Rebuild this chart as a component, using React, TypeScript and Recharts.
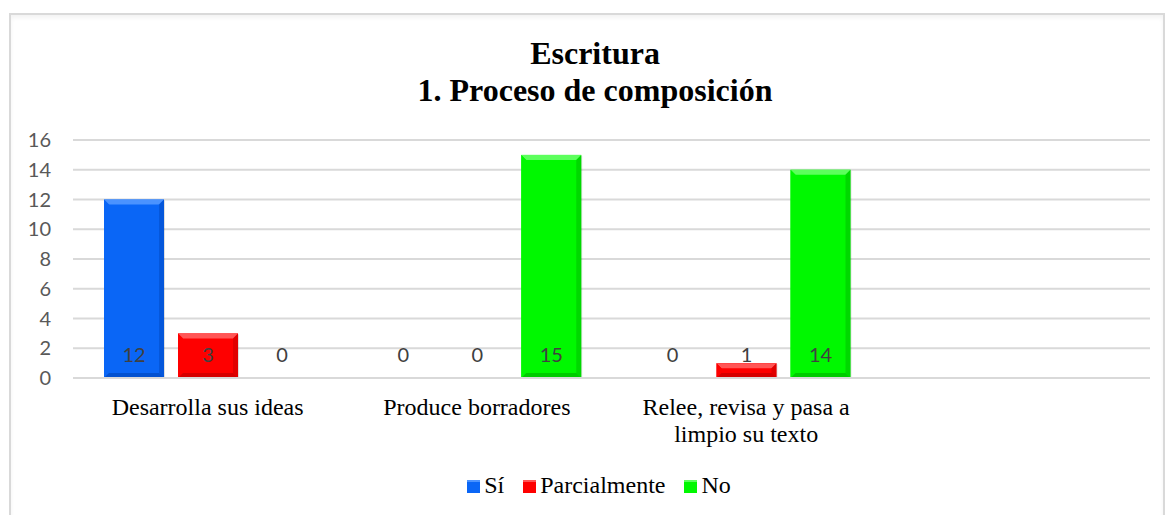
import { Bar, BarChart, CartesianGrid, LabelList, Legend, XAxis, YAxis } from 'recharts'

const categories = ['Desarrolla sus ideas', 'Produce borradores', 'Relee, revisa y pasa a limpio su texto', '']
const siValues = [12, 0, 0, null]
const parcialValues = [3, 0, 1, null]
const noValues = [0, 15, 14, null]
const yTicks = [0, 2, 4, 6, 8, 10, 12, 14, 16]

const series = [
  { key: 'si', name: 'Sí', fill: '#0a66f6', light: '#4b93ff', dark: '#0048c0' },
  { key: 'parcial', name: 'Parcialmente', fill: '#fe0000', light: '#ff5555', dark: '#c40000' },
  { key: 'no', name: 'No', fill: '#00f800', light: '#5cff5c', dark: '#00b800' },
]

const data = categories.map((name, i) => ({
  name,
  si: siValues[i],
  parcial: parcialValues[i],
  no: noValues[i],
}))

const SERIF = 'Liberation Serif, DejaVu Serif, serif'

// bar with a small bevel, like the office 3D preset
function bevelShape(s: (typeof series)[number]) {
  return (props: any) => {
    const { x, y, width, height } = props
    if (!height || height <= 0) return <g />
    const b = Math.min(5, height / 2, width / 2)
    return (
      <g>
        <rect x={x + 1} y={y + 1} width={width} height={height} fill="rgba(0,0,0,0.12)" />
        <rect x={x} y={y} width={width} height={height} fill={s.fill} />
        <polygon points={`${x},${y} ${x + width},${y} ${x + width - b},${y + b} ${x + b},${y + b}`} fill={s.light} />
        <polygon points={`${x},${y} ${x + b},${y + b} ${x + b},${y + height - b} ${x},${y + height}`} fill={s.fill} opacity={0.85} />
        <polygon points={`${x + width},${y} ${x + width - b},${y + b} ${x + width - b},${y + height - b} ${x + width},${y + height}`} fill={s.dark} opacity={0.5} />
        <polygon points={`${x},${y + height} ${x + b},${y + height - b} ${x + width - b},${y + height - b} ${x + width},${y + height}`} fill={s.dark} opacity={0.7} />
      </g>
    )
  }
}

function valueLabel(props: any) {
  const { x, y, width, height, value } = props
  if (value === null || value === undefined) return null
  return (
    <text x={x + width / 2} y={y + height - 16.5} textAnchor="middle" fill="#404040" fontSize={20} fontFamily="Lato, sans-serif">
      {value}
    </text>
  )
}

// greedy word wrap, about 22 characters a line
function wrapLabel(label: string) {
  const lines: string[] = []
  let cur = ''
  for (const w of label.split(' ')) {
    const next = cur ? cur + ' ' + w : w
    if (next.length > 22 && cur) {
      lines.push(cur)
      cur = w
    } else cur = next
  }
  if (cur) lines.push(cur)
  return lines
}

function CategoryTick(props: any) {
  const { x, y, payload } = props
  if (!payload.value) return null
  return (
    <text x={x} y={y + 29} textAnchor="middle" fill="#000" style={{ fontFamily: SERIF, fontSize: 24 }}>
      {wrapLabel(payload.value).map((line, i) => (
        <tspan key={i} x={x} dy={i === 0 ? 0 : 27}>
          {line}
        </tspan>
      ))}
    </text>
  )
}

function LegendContent() {
  return (
    <div style={{ height: 30, display: 'flex', justifyContent: 'center', alignItems: 'center', paddingLeft: 48, fontFamily: SERIF, fontSize: 24, color: '#000', lineHeight: '30px' }}>
      {series.map((s, i) => (
        <span key={s.key} style={{ display: 'inline-flex', alignItems: 'center', marginLeft: i === 0 ? 0 : 19 }}>
          <span style={{ display: 'inline-block', width: 13, height: 13, background: s.fill, borderTop: `2px solid ${s.light}`, boxSizing: 'border-box', marginRight: 4, marginTop: 2 }} />
          {s.name}
        </span>
      ))}
    </div>
  )
}

export default function App() {
  return (
    <div style={{ position: 'absolute', left: 0, top: 0, width: 1168, height: 515, overflow: 'hidden', background: '#fff' }}>
      <div
        style={{
          position: 'absolute',
          left: 9,
          top: 13,
          width: 1152,
          height: 540,
          border: '2px solid #d9d9d9',
          boxShadow: 'inset 0 3px 4px rgba(0,0,0,0.05)',
        }}
      />
      <div
        style={{
          position: 'absolute',
          left: 395,
          top: 35,
          width: 400,
          textAlign: 'center',
          fontFamily: SERIF,
          fontWeight: 'bold',
          fontSize: 32,
          lineHeight: '37px',
          color: '#000',
        }}
      >
        Escritura
        <br />
        1. Proceso de composición
      </div>
      <BarChart width={1168} height={515} data={data} margin={{ top: 140, right: 18, bottom: 15, left: 0 }} barGap={14}>
        <CartesianGrid vertical={false} stroke="#d9d9d9" strokeWidth={2} />
        <XAxis
          dataKey="name"
          interval={0}
          tickLine={false}
          axisLine={{ stroke: '#d9d9d9', strokeWidth: 2 }}
          height={92}
          tick={<CategoryTick />}
        />
        <YAxis
          domain={[0, 16]}
          ticks={yTicks}
          width={73}
          axisLine={false}
          tickLine={false}
          tickSize={0}
          tickMargin={22}
          tick={{ fill: '#595959', fontSize: 20, fontFamily: 'Lato, sans-serif' }}
        />
        <Legend verticalAlign="bottom" content={<LegendContent />} />
        {series.map((s) => (
          <Bar key={s.key} dataKey={s.key} name={s.name} fill={s.fill} barSize={60} shape={bevelShape(s)} isAnimationActive={false}>
            <LabelList dataKey={s.key} content={valueLabel} />
          </Bar>
        ))}
      </BarChart>
    </div>
  )
}
